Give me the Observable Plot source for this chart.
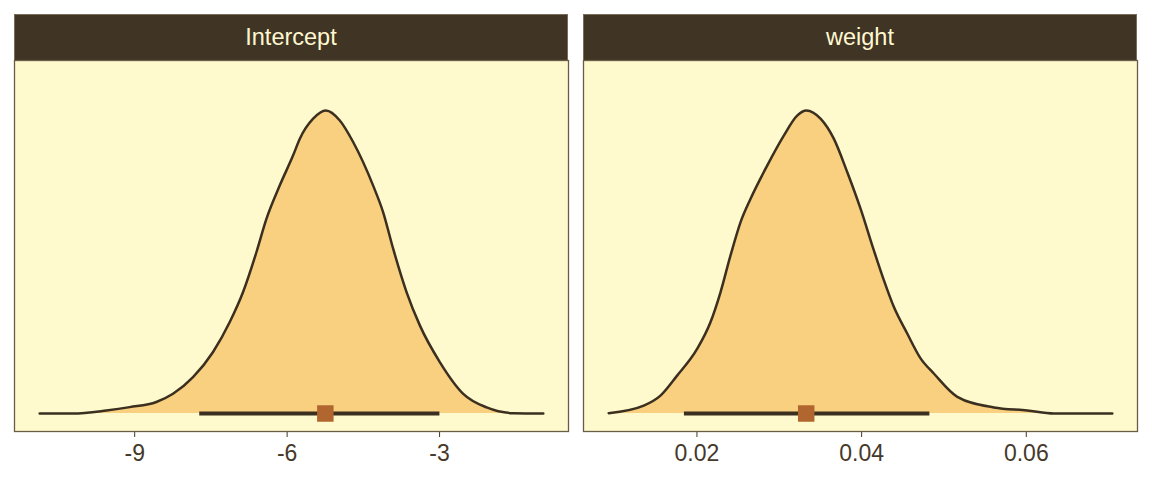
<!DOCTYPE html>
<html><head><meta charset="utf-8">
<script src="https://cdn.jsdelivr.net/npm/d3@7"></script>
<script src="https://cdn.jsdelivr.net/npm/@observablehq/plot@0.6"></script>
<style>
body{margin:0;background:#ffffff;}
#wrap{position:relative;width:1152px;height:480px;font-family:"Liberation Sans",Arial,Helvetica,sans-serif;}
.strip{position:absolute;top:14px;height:46px;box-sizing:border-box;background:#403424;border:1px solid #7a6d58;border-bottom:none;color:#fff8d0;font-size:23.5px;line-height:45px;text-align:center;}
.panel{position:absolute;top:60px;}
</style></head><body>
<div id="wrap"></div>
<script>
// Facet labels
const facetNames = ["Intercept", "weight"];

// Intercept posterior density (x value, relative density)
const interceptX = [-10.87, -10.215, -9.557, -9.098, -8.573, -8.246, -7.852, -7.458, -7.129, -6.867, -6.603, -6.406, -6.144, -5.882, -5.750, -5.488, -5.238, -4.963, -4.701, -4.307, -4.110, -3.912, -3.648, -3.386, -2.992, -2.534, -2.073, -1.549, -0.958];
const interceptDens = [0, 0, 0.010, 0.021, 0.038, 0.065, 0.120, 0.203, 0.302, 0.401, 0.533, 0.643, 0.753, 0.852, 0.907, 0.973, 1.0, 0.967, 0.896, 0.752, 0.664, 0.543, 0.400, 0.290, 0.169, 0.065, 0.020, 0.001, 0];
const interceptInterval = [-7.72, -2.993];
const interceptMedian = -5.248;
const interceptTicks = [-9, -6, -3];

// weight posterior density
const weightX = [0.00928, 0.01354, 0.01557, 0.01759, 0.02002, 0.02164, 0.02286, 0.02407, 0.02529, 0.02650, 0.02853, 0.03055, 0.03217, 0.03330, 0.03501, 0.03662, 0.03825, 0.03987, 0.04148, 0.04270, 0.04391, 0.04554, 0.04716, 0.04877, 0.05162, 0.05606, 0.06012, 0.06335, 0.07045];
const weightDens = [0.001, 0.026, 0.059, 0.125, 0.213, 0.301, 0.400, 0.521, 0.631, 0.708, 0.818, 0.917, 0.983, 1.0, 0.973, 0.907, 0.797, 0.676, 0.539, 0.440, 0.352, 0.264, 0.182, 0.132, 0.055, 0.020, 0.010, 0, 0];
const weightInterval = [0.01848, 0.04829];
const weightMedian = 0.03327;
const weightTicks = [0.02, 0.04, 0.06];

const yDomain = [-0.0594, 1.165];
const FONT = '"Liberation Sans", Arial, Helvetica, sans-serif';

function panel(name, xs, ds, iv, med, ticks, left, ml, mr) {
  const rows = xs.map((x, i) => ({x, d: ds[i]}));
  const [lo, hi] = d3.extent(xs);
  const pad = (hi - lo) * 0.05;
  const chart = Plot.plot({
    width: 576, height: 420,
    marginTop: 0, marginBottom: 49, marginLeft: ml, marginRight: mr,
    x: {domain: [lo - pad, hi + pad]},
    y: {domain: yDomain, axis: null},
    style: {fontFamily: FONT, fontSize: "23px", color: "#45392a", background: "transparent", overflow: "visible"},
    marks: [
      Plot.frame({fill: "#fffacd"}),
      Plot.areaY(rows, {x: "x", y: "d", fill: "#f9d080", curve: "monotone-x"}),
      Plot.lineY(rows, {x: "x", y: "d", stroke: "#3b2f20", strokeWidth: 2.5, curve: "monotone-x"}),
      Plot.ruleY([{lo: iv[0], hi: iv[1]}], {y: () => 0, x1: "lo", x2: "hi", stroke: "#3b2f20", strokeWidth: 4}),
      Plot.dot([{m: med}], {x: "m", y: () => 0, symbol: "square", r: 9.3, fill: "#b1652f"}),
      Plot.axisX({ticks, tickSize: 6, tickPadding: 7, tickFormat: d => String(d), fontSize: 23}),
      Plot.frame({stroke: "#6a5d48", strokeWidth: 1.3})
    ]
  });
  const wrap = document.getElementById("wrap");
  const strip = document.createElement("div");
  strip.className = "strip";
  strip.style.left = (left + ml) + "px";
  strip.style.width = (576 - ml - mr) + "px";
  strip.textContent = name;
  wrap.appendChild(strip);
  const holder = document.createElement("div");
  holder.className = "panel";
  holder.style.left = left + "px";
  holder.appendChild(chart);
  wrap.appendChild(holder);
}

panel(facetNames[0], interceptX, interceptDens, interceptInterval, interceptMedian, interceptTicks, 0, 14, 8);
panel(facetNames[1], weightX, weightDens, weightInterval, weightMedian, weightTicks, 576, 7, 15);
</script>
</body></html>
